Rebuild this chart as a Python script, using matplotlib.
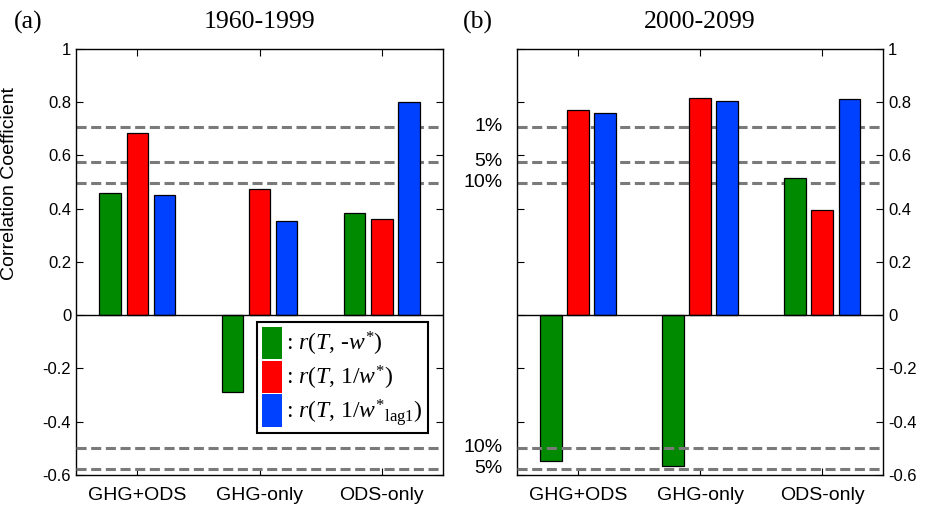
import matplotlib
matplotlib.use("Agg")
import matplotlib.pyplot as plt
import numpy as np
from matplotlib.patches import Patch

plt.rcParams['font.family'] = ['Liberation Sans', 'DejaVu Sans']
plt.rcParams['mathtext.fontset'] = 'custom'
plt.rcParams['mathtext.rm'] = 'Liberation Serif'
plt.rcParams['mathtext.it'] = 'Liberation Serif:italic'

# data
experiments = ['GHG+ODS', 'GHG-only', 'ODS-only']
periods = ['1960-1999', '2000-2099']
panel_tags = ['(a)', '(b)']

# left panel (1960-1999)
r_negw_past = [0.46, -0.29, 0.385]
r_invw_past = [0.685, 0.475, 0.36]
r_lag1_past = [0.45, 0.355, 0.80]
# right panel (2000-2099)
r_negw_futr = [-0.546, -0.565, 0.517]
r_invw_futr = [0.772, 0.816, 0.397]
r_lag1_futr = [0.76, 0.805, 0.812]

# significance thresholds (10%, 5%, 1%)
sig_levels = [0.497, 0.576, 0.708]
sig_labels = ['10%', '5%', '1%']
neg_sig_levels = [-0.497, -0.576]
neg_sig_labels = ['10%', '5%']

yticks = [1, 0.8, 0.6, 0.4, 0.2, 0, -0.2, -0.4, -0.6]
ytick_labels = ['1', '0.8', '0.6', '0.4', '0.2', '0', '-0.2', '-0.4', '-0.6']

colors = ['#008a00', '#ff0000', '#0040ff']
series_labels = [r': $r$($T$, -$w^{*}$)',
                 r': $r$($T$, 1/$w^{*}$)',
                 r': $r$($T$, 1/$w^{*}{}_{\mathrm{lag1}}$)']

fig = plt.figure(figsize=(9.25, 5.12), dpi=100)
ax1 = fig.add_axes([0.0822, 0.0723, 0.3968, 0.832])
ax2 = fig.add_axes([0.559, 0.0723, 0.3957, 0.832])

x = np.arange(1, len(experiments) + 1)
offsets = [-0.222, 0.0, 0.222]
width = 0.175

def draw_panel(ax, series):
    for s, vals in enumerate(series):
        ax.bar(x + offsets[s], vals, width, color=colors[s],
               edgecolor='black', linewidth=0.9, zorder=3)
    for lv in sig_levels:
        ax.axhline(lv, color='#7a7a7a', lw=2.2, ls=(0, (3.3, 1.5)), zorder=2)
    for lv in neg_sig_levels:
        ax.axhline(lv, color='#7a7a7a', lw=2.2, ls=(0, (3.3, 1.5)), zorder=4)
    ax.axhline(0, color='black', lw=1.0, zorder=5)
    ax.set_xlim(0.5, 3.5)
    ax.set_ylim(-0.6, 1)
    ax.set_xticks(x)
    ax.set_xticklabels(experiments, fontsize=14)
    ax.set_yticks(yticks)
    ax.tick_params(axis='both', direction='in', length=5, width=0.8,
                   top=True, right=True, left=True)
    ax.tick_params(axis='x', pad=9)
    for sp in ax.spines.values():
        sp.set_linewidth(1.0)

draw_panel(ax1, [r_negw_past, r_invw_past, r_lag1_past])
draw_panel(ax2, [r_negw_futr, r_invw_futr, r_lag1_futr])

ax1.set_yticklabels(ytick_labels, fontsize=12)
ax1.set_ylabel('Correlation Coefficient', fontsize=14)
ax1.yaxis.set_label_coords(-0.158, 0.685)

ax2.yaxis.tick_right()
ax2.tick_params(axis='y', left=True, right=True, direction='in', length=5)
ax2.set_yticklabels(ytick_labels, fontsize=12)

tr = ax2.get_yaxis_transform()
for lv, lab in zip(sig_levels + neg_sig_levels, sig_labels + neg_sig_labels):
    ax2.text(-0.04, lv, lab, transform=tr, ha='right', va='center', fontsize=14)

for ax, per in zip([ax1, ax2], periods):
    bb = ax.get_position()
    fig.text(bb.x0 + bb.width / 2, 0.957, per, ha='center', va='center',
             fontsize=18.5, family='Liberation Serif')

fig.text(0.031, 0.957, panel_tags[0], ha='center', va='center',
         fontsize=18.5, family='Liberation Serif')
fig.text(0.517, 0.957, panel_tags[1], ha='center', va='center',
         fontsize=18.5, family='Liberation Serif')

handles = [Patch(facecolor=c, edgecolor='none') for c in colors]
leg = ax1.legend(handles, series_labels, loc='upper left',
                 bbox_to_anchor=(0.493, 0.359),
                 prop={'family': 'Liberation Serif', 'size': 17},
                 handlelength=0.85, handleheight=1.75, handletextpad=0.2,
                 labelspacing=0.05, borderpad=0.2, borderaxespad=0,
                 fancybox=False, framealpha=1, edgecolor='black')
leg.get_frame().set_linewidth(1.5)
leg.set_zorder(10)

fig.savefig('out.png', dpi=100)
